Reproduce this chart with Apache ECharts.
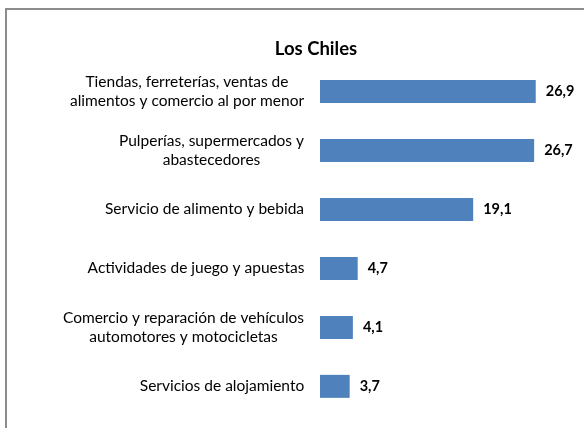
<!DOCTYPE html>
<html>
<head>
<meta charset="utf-8">
<script src="https://cdn.jsdelivr.net/npm/echarts@6/dist/echarts.min.js"></script>
<style>html,body{margin:0;padding:0;background:#fff;}#c{width:584px;height:428px;}</style>
</head>
<body>
<div id="c"></div>
<script>
var titleText = 'Los Chiles';
var categories = [
  'Tiendas, ferreterías, ventas de\nalimentos y comercio al por menor',
  'Pulperías, supermercados y\nabastecedores',
  'Servicio de alimento y bebida',
  'Actividades de juego y apuestas',
  'Comercio y reparación de vehículos\nautomotores y motocicletas',
  'Servicios de alojamiento'
];
var values = [26.9, 26.7, 19.1, 4.7, 4.1, 3.7];

var labelFont = 'Lato';
var labelSize = 15.5;
var cv = document.createElement('canvas').getContext('2d');
cv.font = labelSize + 'px ' + labelFont;
var rich = {};
categories.forEach(function (c, i) {
  var w = 0;
  c.split('\n').forEach(function (l) { w = Math.max(w, cv.measureText(l).width); });
  rich['l' + i] = {
    width: Math.ceil(w) + 1, align: 'center',
    fontFamily: labelFont, fontSize: labelSize, lineHeight: 18.5, color: '#000'
  };
});

var chart = echarts.init(document.getElementById('c'), null, {renderer: 'canvas'});
chart.setOption({
  animation: false,
  backgroundColor: '#ffffff',
  graphic: [{
    type: 'rect',
    shape: {x: 6, y: 9, width: 620, height: 520},
    style: {fill: 'none', stroke: '#8c8c8c', lineWidth: 2},
    silent: true
  }],
  title: {
    text: titleText,
    left: 311, top: 35, textAlign: 'center',
    textStyle: {fontFamily: 'Lato', fontWeight: 'bold', fontSize: 18.5, color: '#000'}
  },
  grid: {left: 320, right: 23.4, top: 62, bottom: 12.15, containLabel: false},
  xAxis: {
    type: 'value', min: 0, max: 30, show: false
  },
  yAxis: {
    type: 'category', data: categories, inverse: true,
    axisLine: {show: false}, axisTick: {show: false}, splitLine: {show: false},
    axisLabel: {
      margin: 15, align: 'right',
      fontFamily: labelFont, fontSize: labelSize, color: '#000', lineHeight: 18.5,
      rich: rich,
      formatter: function (v, i) {
        return v.split('\n').map(function (l) { return '{l' + i + '|' + l + '}'; }).join('\n');
      }
    }
  },
  series: [{
    type: 'bar', data: values, barWidth: 23,
    itemStyle: {color: '#4F81BD'},
    label: {
      show: true, position: 'right', distance: 10,
      fontFamily: 'Lato', fontWeight: 'bold', fontSize: 14.5, color: '#000',
      formatter: function (p) { return p.value.toFixed(1).replace('.', ','); }
    }
  }]
});
</script>
</body>
</html>
